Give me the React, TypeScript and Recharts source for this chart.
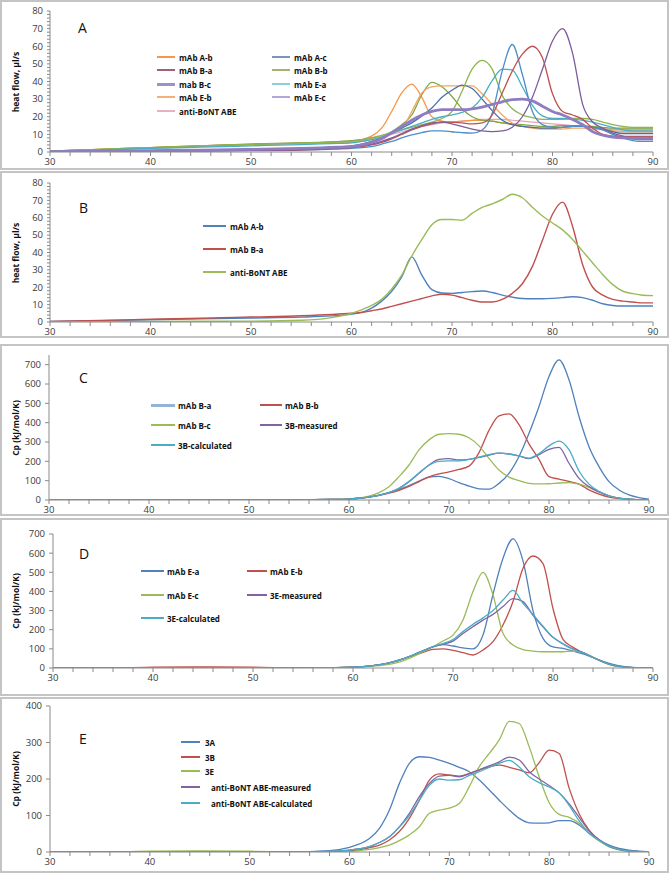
import React from 'react';
import { LineChart, Line, XAxis, YAxis } from 'recharts';

// temperatures (°C), shared by every series
const temps = [30, 35, 40, 45, 50, 55, 58, 60, 61, 62, 63, 64, 65, 66, 67, 68, 69, 70, 71, 72, 73, 74, 75, 76, 77, 78, 79, 80, 81, 82, 83, 84, 85, 86, 87, 88, 89, 90];
const xTicks = [30, 32, 34, 36, 38, 40, 42, 44, 46, 48, 50, 52, 54, 56, 58, 60, 62, 64, 66, 68, 70, 72, 74, 76, 78, 80, 82, 84, 86, 88, 90];
const yTicksHeat = [0, 2, 4, 6, 8, 10, 12, 14, 16, 18, 20, 22, 24, 26, 28, 30, 32, 34, 36, 38, 40, 42, 44, 46, 48, 50, 52, 54, 56, 58, 60, 62, 64, 66, 68, 70, 72, 74, 76, 78, 80];
const yTicksCp700 = [0, 100, 200, 300, 400, 500, 600, 700];
const yTicksCp400 = [0, 100, 200, 300, 400];

// panel A - heat flow, µl/s
const aAb = [0.5, 1.5, 2.5, 3.5, 4.3, 5, 5.5, 6, 7, 9, 13.5, 23, 33.5, 38.5, 31, 20, 17.5, 17, 17.5, 18, 18, 17.5, 16.5, 15.5, 14.5, 14, 13.5, 13.5, 14, 14.5, 14.5, 14, 13, 12.5, 12.5, 12.5, 12.5, 12.5];
const aGreen = [0.5, 1.5, 2.5, 3.5, 4.5, 5.2, 5.8, 6.5, 7, 8, 9, 11.5, 15.5, 21, 32.5, 39.5, 37, 31.5, 24.5, 20, 18, 17.5, 16.5, 16, 15.5, 15, 14.5, 14.5, 15, 15, 15, 14.5, 14, 13.5, 13.5, 13.5, 13.5, 13.5];
const aEb = [0.3, 1.2, 2.2, 3.2, 4, 4.8, 5.2, 5.5, 6, 7, 9, 11, 13.5, 23, 33.5, 37, 37.5, 37.5, 37.5, 37.5, 33, 27, 21, 16.4, 14.5, 13.5, 13, 13, 13, 13.5, 13.5, 13, 12.5, 12, 11.5, 11.5, 11.5, 11.5];
const aAc = [0.2, 0.5, 0.8, 1.2, 1.6, 2.2, 2.8, 3.5, 4.5, 6, 8, 10.5, 13.5, 16.5, 20.5, 25, 31, 35, 38, 36, 30, 23.5, 18, 15.5, 14.5, 14, 13.5, 13.5, 14, 14.5, 14.5, 14, 13, 11.5, 10.5, 10.5, 10.5, 10.5];
const aBb = [0.5, 1.5, 2.5, 3.3, 4.2, 5, 5.5, 6, 7, 8, 9.5, 11, 12.5, 14, 15.5, 17, 19, 23, 34.5, 47, 52, 47, 32, 24.5, 21, 19.5, 18.5, 18.5, 18.5, 19, 19, 18.5, 17, 15.5, 14.5, 14, 14, 14];
const aEa = [0.4, 1.2, 2, 2.8, 3.5, 4.2, 4.8, 5.2, 6, 7, 8.5, 10.5, 12.5, 14.5, 16.5, 18.5, 20, 21, 22.5, 25, 31, 40.5, 47, 46.5, 37, 26.5, 20.5, 19, 19, 18.5, 18, 17, 15.5, 14, 12.5, 12, 12, 12];
const aEc = [0.1, 0.2, 0.4, 0.6, 0.8, 1.1, 1.6, 2, 2.5, 3, 4.5, 6, 8, 9.7, 11, 12, 12, 11.5, 11, 10.7, 12.5, 22, 46, 61, 44, 23, 15.5, 14, 14, 14.5, 14.5, 14, 12.5, 10, 8, 6.5, 6, 6];
const aRed = [0.1, 0.3, 0.5, 0.7, 0.9, 1.2, 1.8, 2.5, 3, 4, 5.5, 7.5, 10, 12.5, 14.5, 16, 17, 17, 16.5, 16, 16.5, 21, 33.5, 46, 55.5, 60, 53.5, 33, 23, 21, 18.5, 13.5, 10, 9, 8.8, 8.8, 8.8, 8.8];
const aBa = [0.1, 0.3, 0.5, 0.7, 1, 1.4, 2, 2.5, 3.5, 4.5, 6, 8, 10.5, 13, 15, 16.5, 17, 16, 14.5, 13, 12, 11.6, 12, 14, 20, 31, 47, 63, 70, 56, 27, 17, 13.5, 10.7, 9, 7.5, 7, 7];
const aBc = [0.2, 0.5, 0.8, 1.1, 1.5, 2, 2.6, 3, 4, 5.5, 7.5, 11, 14.5, 18, 21, 23, 24, 24, 24, 24.5, 25.5, 27, 28.5, 29.7, 30, 29, 26, 23, 21, 18.5, 15.5, 11.5, 9.5, 8.5, 8, 7.8, 7.8, 7.8];
const aABE = [0.5, 1.5, 2.5, 3.5, 4.5, 5.2, 5.8, 6, 6.5, 7.5, 8.5, 10, 11.5, 13, 14.5, 15.5, 16.5, 17, 17.5, 18, 18.5, 18.5, 18.5, 18, 17.5, 17, 16.5, 16, 15.5, 15, 14.5, 14, 13.5, 13, 13, 13, 13, 13];

// panel B - heat flow, µl/s
const bAb = [0.3, 0.8, 1.3, 1.8, 2.3, 2.8, 3.5, 4.5, 5.5, 8, 12, 17.7, 26, 37.5, 27, 18.6, 16.7, 16.5, 17, 17.5, 17.8, 17, 15.5, 14.3, 13.5, 13.4, 13.4, 13.6, 14, 14.5, 14, 12.5, 10.5, 9.5, 9.2, 9.2, 9.2, 9.2];
const bBa = [0.3, 0.9, 1.6, 2.2, 2.9, 3.6, 4.3, 5, 5.5, 6.5, 7.5, 9, 10.5, 12, 13.5, 15, 16, 15.5, 14, 12.5, 11.5, 11.5, 13, 16.5, 22, 32, 47, 62, 69, 55, 33, 20, 15.5, 13, 12, 11.5, 11, 11];
const bABE = [0.1, 0.2, 0.3, 0.4, 0.5, 1, 2.5, 5, 7, 9.5, 13, 19, 27, 38, 47.5, 56, 59, 59, 58.6, 62.5, 66, 68, 70.5, 73.5, 71.5, 66, 61, 57, 53, 47.5, 40.8, 34, 27.3, 21.5, 17.7, 16.3, 15.4, 15.2];

// panel C - Cp (kJ/mol/K)
const cBa = [0, 0, 0, 0, 0, 1, 3, 5, 9, 15, 25, 38, 55, 75, 98, 118, 122, 110, 90, 72, 58, 56, 86, 138, 225, 345, 484, 639, 725, 622, 432, 276, 173, 95, 52, 26, 12, 5];
const cBb = [0, 0, 0, 0, 1, 2, 3, 5, 9, 15, 24, 35, 50, 70, 95, 120, 135, 145, 158, 175, 245, 360, 435, 445, 390, 290, 210, 121, 108, 96, 82, 52, 30, 15, 7, 3, 1, 0];
const cBc = [0, 0, 0, 0, 0, 1, 3, 6, 10, 20, 38, 69, 121, 181, 259, 311, 340, 343, 340, 322, 280, 215, 155, 118, 100, 86, 83, 84, 88, 90, 82, 65, 42, 22, 10, 4, 1, 0];
const c3Bm = [0, 0, 0, 0, 0, 1, 3, 5, 9, 15, 24, 38, 60, 95, 138, 181, 210, 214, 207, 210, 220, 232, 242, 238, 228, 214, 235, 262, 272, 190, 112, 69, 42, 22, 10, 4, 1, 0];
const c3Bc = [0, 0, 0, 0, 0, 1, 3, 5, 9, 15, 24, 38, 60, 95, 140, 180, 200, 202, 202, 210, 222, 235, 242, 238, 228, 216, 240, 280, 305, 260, 150, 82, 45, 22, 10, 4, 1, 0];

// panel D - Cp (kJ/mol/K)
const dEa = [0, 0, 0, 0, 0, 1, 2, 4, 7, 12, 20, 32, 48, 68, 90, 110, 122, 115, 105, 100, 172, 385, 573, 675, 560, 300, 155, 110, 102, 88, 74, 55, 35, 19, 8, 3, 1, 0];
const dEb = [0, 0, 4, 6, 4, 0, 1, 4, 7, 12, 20, 32, 48, 65, 82, 97, 100, 92, 80, 68, 94, 138, 225, 347, 521, 585, 545, 310, 150, 108, 80, 55, 32, 14, 6, 2, 1, 0];
const dEc = [0, 0, 0, 0, 0, 1, 2, 4, 6, 10, 15, 23, 37, 59, 85, 111, 141, 172, 251, 399, 500, 382, 180, 120, 96, 88, 85, 85, 85, 88, 80, 57, 30, 12, 5, 2, 1, 0];
const d3Em = [0, 0, 0, 0, 0, 1, 2, 4, 7, 12, 20, 32, 48, 68, 90, 110, 125, 140, 180, 216, 250, 280, 321, 362, 347, 275, 215, 160, 127, 100, 80, 55, 32, 15, 6, 2, 1, 0];
const d3Ec = [0, 0, 0, 0, 0, 1, 2, 4, 7, 12, 20, 32, 48, 68, 90, 112, 128, 148, 190, 228, 262, 300, 355, 405, 338, 280, 218, 160, 125, 98, 80, 55, 32, 15, 6, 2, 1, 0];

// panel E - Cp (kJ/mol/K)
const e3A = [0, 0, 0, 0, 0, 1, 4, 13, 22, 37, 65, 115, 188, 243, 261, 259, 252, 243, 232, 220, 197, 170, 142, 115, 92, 80, 79, 80, 86, 86, 74, 51, 33, 19, 10, 5, 2, 0];
const e3B = [0, 0, 0, 0, 0, 0, 1, 3, 6, 12, 19, 33, 56, 92, 142, 197, 214, 211, 208, 215, 225, 233, 238, 232, 225, 217, 245, 279, 270, 175, 105, 60, 33, 16, 7, 3, 1, 0];
const e3E = [0, 0, 2, 3, 2, 0, 0, 1, 4, 7, 12, 19, 31, 47, 69, 106, 115, 120, 133, 179, 234, 270, 307, 358, 352, 288, 206, 135, 103, 95, 79, 51, 30, 14, 6, 2, 1, 0];
const eMeas = [0, 0, 0, 0, 0, 0, 2, 5, 9, 15, 26, 42, 69, 106, 152, 188, 208, 210, 206, 215, 225, 236, 247, 260, 252, 220, 200, 182, 162, 132, 95, 58, 34, 16, 7, 3, 1, 0];
const eCalc = [0, 0, 0, 0, 0, 0, 2, 5, 9, 15, 26, 42, 69, 100, 142, 183, 200, 197, 198, 210, 220, 232, 243, 251, 233, 206, 190, 178, 162, 128, 85, 52, 32, 16, 7, 3, 1, 0];

const FONT = '"Open Sans", "DejaVu Sans", sans-serif';
const BLUE = '#4F81BD';
const RED = '#C0504D';
const GREEN = '#9BBB59';
const PURPLE = '#8064A2';
const AQUA = '#4BACC6';

const panels = [
  {
    letter: 'A', top: 0, height: 170, plotTop: 11, axisH: 18, yW: 50, right: 16,
    yMax: 80, yTicks: yTicksHeat, title: 'heat flow, µl/s', minor: true,
    series: [
      { key: 'aABE', values: aABE, color: '#E7A3B5', w: 1.2 },
      { key: 'aAb', values: aAb, color: '#F79646', w: 1.3 },
      { key: 'aGreen', values: aGreen, color: '#7FA83F', w: 1.3 },
      { key: 'aEb', values: aEb, color: '#F2A765', w: 1.3 },
      { key: 'aAc', values: aAc, color: '#4A6FA5', w: 1.3 },
      { key: 'aBb', values: aBb, color: '#8DB54A', w: 1.3 },
      { key: 'aEa', values: aEa, color: AQUA, w: 1.3 },
      { key: 'aEc', values: aEc, color: '#4A8FCB', w: 1.3 },
      { key: 'aRed', values: aRed, color: RED, w: 1.3 },
      { key: 'aBa', values: aBa, color: '#7E5C9C', w: 1.3 },
      { key: 'aBc', values: aBc, color: '#8E7DC0', w: 2.8 },
    ],
    legend: [
      { label: 'mAb A-b', color: '#F79646', x: 157, y: 57, len: 18, gap: 4 },
      { label: 'mAb A-c', color: '#7F95B8', x: 272, y: 57, len: 18, gap: 4 },
      { label: 'mAb B-a', color: '#A0607A', x: 157, y: 70, len: 18, gap: 4 },
      { label: 'mAb B-b', color: '#A8B070', x: 272, y: 70, len: 18, gap: 4 },
      { label: 'mab B-c', color: '#9F90C8', x: 157, y: 84, len: 18, gap: 4, thick: 3 },
      { label: 'mAb E-a', color: '#8CCEDD', x: 272, y: 84, len: 18, gap: 4 },
      { label: 'mAb E-b', color: '#F5B07A', x: 157, y: 97, len: 18, gap: 4 },
      { label: 'mAb E-c', color: '#B0A8D8', x: 272, y: 97, len: 18, gap: 4 },
      { label: 'anti-BoNT ABE', color: '#E5B0C0', x: 157, y: 111, len: 18, gap: 4 },
    ],
    letterX: 78, letterY: 18,
  },
  {
    letter: 'B', top: 171, height: 167, plotTop: 12, axisH: 16, yW: 50, right: 16,
    yMax: 80, yTicks: yTicksHeat, title: 'heat flow, µl/s', minor: true,
    series: [
      { key: 'bAb', values: bAb, color: BLUE, w: 1.4 },
      { key: 'bBa', values: bBa, color: RED, w: 1.4 },
      { key: 'bABE', values: bABE, color: GREEN, w: 1.4 },
    ],
    legend: [
      { label: 'mAb A-b', color: BLUE, x: 203, y: 226, len: 23, gap: 4 },
      { label: 'mAb B-a', color: RED, x: 203, y: 249, len: 23, gap: 4 },
      { label: 'anti-BoNT ABE', color: GREEN, x: 203, y: 272, len: 23, gap: 4 },
    ],
    letterX: 79, letterY: 198,
  },
  {
    letter: 'C', top: 344, height: 172, plotTop: 11, axisH: 16, yW: 49, right: 20,
    yMax: 750, yTicks: yTicksCp700, title: 'Cp (kJ/mol/K)', minor: false,
    series: [
      { key: 'cBa', values: cBa, color: BLUE, w: 1.3 },
      { key: 'cBb', values: cBb, color: RED, w: 1.3 },
      { key: 'cBc', values: cBc, color: GREEN, w: 1.3 },
      { key: 'c3Bm', values: c3Bm, color: PURPLE, w: 1.3 },
      { key: 'c3Bc', values: c3Bc, color: AQUA, w: 1.3 },
    ],
    legend: [
      { label: 'mAb B-a', color: '#95B3D7', x: 151, y: 405, len: 24, gap: 3, thick: 3 },
      { label: 'mAb B-b', color: RED, x: 260, y: 405, len: 22, gap: 3 },
      { label: 'mAb B-c', color: GREEN, x: 151, y: 425, len: 24, gap: 3 },
      { label: '3B-measured', color: PURPLE, x: 260, y: 425, len: 22, gap: 3 },
      { label: '3B-calculated', color: AQUA, x: 151, y: 445, len: 24, gap: 3 },
    ],
    letterX: 79, letterY: 368,
  },
  {
    letter: 'D', top: 518, height: 178, plotTop: 16, axisH: 28, yW: 53, right: 16,
    yMax: 700, yTicks: yTicksCp700, title: 'Cp (kJ/mol/K)', minor: false,
    series: [
      { key: 'dEa', values: dEa, color: BLUE, w: 1.3 },
      { key: 'dEb', values: dEb, color: RED, w: 1.3 },
      { key: 'dEc', values: dEc, color: GREEN, w: 1.3 },
      { key: 'd3Em', values: d3Em, color: PURPLE, w: 1.3 },
      { key: 'd3Ec', values: d3Ec, color: AQUA, w: 1.3 },
    ],
    legend: [
      { label: 'mAb E-a', color: BLUE, x: 141, y: 571, len: 23, gap: 3 },
      { label: 'mAb E-b', color: RED, x: 247, y: 571, len: 20, gap: 3 },
      { label: 'mAb E-c', color: GREEN, x: 141, y: 595, len: 23, gap: 3 },
      { label: '3E-measured', color: PURPLE, x: 247, y: 595, len: 20, gap: 3 },
      { label: '3E-calculated', color: AQUA, x: 141, y: 618, len: 23, gap: 3 },
    ],
    letterX: 79, letterY: 544,
  },
  {
    letter: 'E', top: 697, height: 176, plotTop: 9, axisH: 21, yW: 50, right: 20,
    yMax: 400, yTicks: yTicksCp400, title: 'Cp (kJ/mol/K)', minor: false,
    series: [
      { key: 'e3A', values: e3A, color: BLUE, w: 1.3 },
      { key: 'e3B', values: e3B, color: RED, w: 1.3 },
      { key: 'e3E', values: e3E, color: GREEN, w: 1.3 },
      { key: 'eMeas', values: eMeas, color: PURPLE, w: 1.3 },
      { key: 'eCalc', values: eCalc, color: AQUA, w: 1.3 },
    ],
    legend: [
      { label: '3A', color: BLUE, x: 181, y: 742, len: 19, gap: 5 },
      { label: '3B', color: RED, x: 181, y: 757, len: 19, gap: 5 },
      { label: '3E', color: GREEN, x: 181, y: 771, len: 19, gap: 5 },
      { label: 'anti-BoNT ABE-measured', color: PURPLE, x: 181, y: 787, len: 19, gap: 11 },
      { label: 'anti-BoNT ABE-calculated', color: AQUA, x: 181, y: 803, len: 19, gap: 11 },
    ],
    letterX: 79, letterY: 729,
  },
];

const tickStyle = { fontSize: 9.5, fill: '#3a3a3a', fontFamily: FONT };

function Panel({ p }: { p: any }) {
  const data = temps.map((t, i) => {
    const row: any = { t };
    p.series.forEach((s: any) => { row[s.key] = s.values[i]; });
    return row;
  });
  const plotBottom = p.height - p.axisH;
  const plotMid = (p.plotTop + plotBottom) / 2;
  const yFmt = (v: number) => (p.minor ? (v % 10 === 0 ? String(v) : '') : String(v));

  return (
    <div style={{ position: 'absolute', left: 0, top: p.top, width: 669, height: p.height }}>
      <div style={{ position: 'absolute', left: 0, top: 0, width: 669, height: p.height }}>
        <LineChart
          width={669}
          height={p.height}
          data={data}
          margin={{ top: p.plotTop, right: p.right, left: 0, bottom: 0 }}
        >
          <XAxis
            type="number"
            dataKey="t"
            domain={[30, 90]}
            ticks={xTicks}
            interval={0}
            tickFormatter={(v: number) => (v % 10 === 0 ? String(v) : '')}
            height={p.axisH}
            tickSize={4}
            tickMargin={2}
            stroke="#8a8a8a"
            tick={tickStyle}
            allowDataOverflow
          />
          <YAxis
            type="number"
            domain={[0, p.yMax]}
            ticks={p.yTicks}
            interval={0}
            tickFormatter={yFmt}
            width={p.yW}
            tickSize={p.minor ? 3 : 4}
            tickMargin={4}
            stroke="#8a8a8a"
            tick={tickStyle}
            allowDataOverflow
          />
          {p.series.map((s: any) => (
            <Line
              key={s.key}
              type="monotone"
              dataKey={s.key}
              stroke={s.color}
              strokeWidth={s.w}
              dot={false}
              activeDot={false}
              isAnimationActive={false}
            />
          ))}
        </LineChart>
      </div>
      <div style={{ position: 'absolute', left: 0, top: 0, width: 669, height: p.height, boxSizing: 'border-box', border: '2px solid #c4c4c4', pointerEvents: 'none' }} />
      <div style={{ position: 'absolute', left: p.letterX, top: p.letterY - p.top, fontFamily: FONT, fontSize: 14, color: '#111' }}>{p.letter}</div>
      <div
        style={{
          position: 'absolute', left: 15, top: plotMid, transform: 'translate(-50%, -50%) rotate(-90deg)',
          whiteSpace: 'nowrap', fontFamily: FONT, fontSize: 8.5, fontWeight: 700, color: '#111',
        }}
      >
        {p.title}
      </div>
      {p.legend.map((l: any) => (
        <div key={l.label} style={{ position: 'absolute', left: l.x, top: l.y - p.top - 6, height: 12, display: 'flex', alignItems: 'center', whiteSpace: 'nowrap' }}>
          <span style={{ display: 'inline-block', width: l.len, height: l.thick || 1.6, background: l.color, marginRight: l.gap }} />
          <span style={{ fontFamily: FONT, fontSize: 8, fontWeight: 700, color: '#111' }}>{l.label}</span>
        </div>
      ))}
    </div>
  );
}

export default function App() {
  return (
    <div style={{ position: 'relative', width: 669, height: 873, background: '#fff', overflow: 'hidden' }}>
      <style>{'body{margin:0}'}</style>
      {panels.map((p) => (
        <Panel key={p.letter} p={p} />
      ))}
    </div>
  );
}
